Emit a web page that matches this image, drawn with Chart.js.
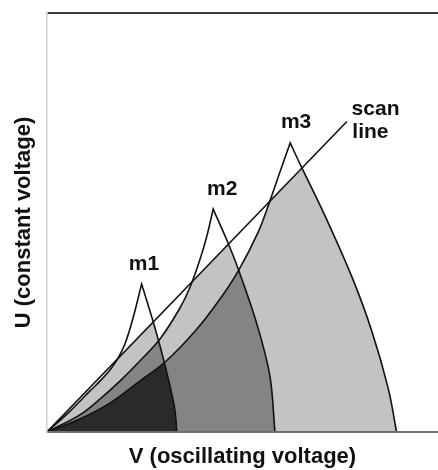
<!DOCTYPE html>
<html>
<head>
<meta charset="utf-8">
<script src="https://cdn.jsdelivr.net/npm/chart.js@4.4.1/dist/chart.umd.min.js"></script>
<style>
  html, body { margin: 0; padding: 0; background: #fff; }
  #chart { display: block; }
</style>
</head>
<body>
<canvas id="chart" width="438" height="470"></canvas>
<script>
// V and U in arbitrary units (0..100).
// each stability region: left edge from the origin up to the apex, right edge from the apex down to the V axis
const m1LeftV = [0, 5.9, 11.0, 13.6, 16.1, 17.9, 20.0, 22.0, 24.2];
const m1LeftU = [0, 5.0, 9.8, 12.2, 14.8, 17.2, 21.2, 27.2, 35.3];
const m1RightV = [24.2, 27.2, 29.7, 31.5, 32.7, 33.2];
const m1RightU = [35.3, 26.2, 17.7, 10.8, 5.3, 0];

const m2LeftV = [0, 8.4, 13.6, 18.7, 23.8, 28.9, 34.0, 36.6, 39.1, 40.9, 42.5];
const m2LeftU = [0, 4.1, 7.9, 12.2, 17.0, 22.2, 29.6, 34.6, 41.1, 46.8, 53.2];
const m2RightV = [42.5, 46.3, 48.9, 53.6, 57.0, 58.3];
const m2RightU = [53.2, 45.1, 38.9, 26.0, 13.4, 0];

const m3LeftV = [0, 8.4, 16.1, 23.8, 30.2, 37.9, 44.2, 48.9, 54.0, 57.0, 59.6, 62.2];
const m3LeftU = [0, 3.1, 6.9, 12.2, 16.7, 24.1, 31.7, 38.4, 47.7, 55.1, 62.1, 69.0];
const m3RightV = [62.2, 65.1, 71.1, 77.9, 83.0, 87.3, 89.4];
const m3RightU = [69.0, 63.2, 51.6, 37.2, 24.3, 10.3, 0];

const scanV = [0, 76.7];
const scanU = [0, 74.1];

const notes = ['m1', 'm2', 'm3', 'scan', 'line'];
const noteV = [24.8, 44.8, 63.7, 77.9, 78.1];
const noteU = [38.7, 56.6, 72.6, 75.7, 70.2];
const noteAlign = ['center', 'center', 'center', 'left', 'left'];

const V_MAX = 100;
const U_MAX = 100;

const LIGHT = '#c3c3c3';
const MID = '#848484';
const DARK = '#2a2a2a';
const INK = '#111';
const FAMILY = '"Liberation Sans", Arial, sans-serif';
const LABEL_FONT = {family: FAMILY, size: 21, weight: 'bold'};
const TITLE_FONT = {family: FAMILY, size: 22, weight: 'bold'};

const toPts = (vs, us) => vs.map((v, i) => ({x: v, y: us[i]}));
const outline = (lv, lu, rv, ru) => toPts(lv, lu).concat(toPts(rv, ru));
// same outline carried on along the V axis, so a fill can use it as a floor past the region's end
const withFloor = (pts) => pts.concat([{...pts[pts.length - 1]}, {x: V_MAX, y: 0}]);

const m1 = outline(m1LeftV, m1LeftU, m1RightV, m1RightU);
const m2 = outline(m2LeftV, m2LeftU, m2RightV, m2RightU);
const m3 = outline(m3LeftV, m3LeftU, m3RightV, m3RightU);
const scan = toPts(scanV, scanU);

const stroke = (data, order) => ({data, order, borderColor: INK, borderWidth: 1.6, fill: false});
const guide = (data, order) => ({data, order, borderWidth: 0, fill: false});
const patch = (data, order, fill, color) => ({data, order, fill, borderWidth: 0, backgroundColor: color});
const band = (data, order, target, color) =>
  patch(data, order, {target, above: color, below: 'transparent'});

// shade = how many regions overlap (1 light, 2 mid, 3 dark), white above the scan line.
// painted bottom to top, highest order first
const datasets = [
  stroke(m1, 0),                   // 0
  stroke(m2, 1),                   // 1
  stroke(m3, 2),                   // 2
  stroke(scan, 3),                 // 3
  guide(withFloor(m1), 20),        // 4
  guide(withFloor(m2), 21),        // 5
  patch(scan, 4, 'end', '#fff'),   // above the scan line
  band(m1, 5, 1, LIGHT),           // m1 only
  band(m1, 6, 2, MID),             // m1 and m2, not m3
  patch(m1, 7, 'origin', DARK),    // all three
  band(m3, 8, 5, LIGHT),           // m3 only
  patch(m3, 9, 'origin', MID),     // m3 and m2
  band(m2, 10, 4, LIGHT),          // m2 only
  patch(m2, 11, 'origin', MID),
];

const regionLabels = {
  id: 'regionLabels',
  afterDatasetsDraw(chart) {
    const {ctx, scales: {x, y}} = chart;
    ctx.save();
    ctx.font = `${LABEL_FONT.weight} ${LABEL_FONT.size}px ${LABEL_FONT.family}`;
    ctx.fillStyle = INK;
    ctx.textBaseline = 'alphabetic';
    notes.forEach((t, i) => {
      ctx.textAlign = noteAlign[i];
      ctx.fillText(t, x.getPixelForValue(noteV[i]), y.getPixelForValue(noteU[i]));
    });
    ctx.restore();
  }
};

new Chart(document.getElementById('chart'), {
  type: 'line',
  data: {datasets},
  plugins: [regionLabels],
  options: {
    responsive: false,
    animation: false,
    devicePixelRatio: 1,
    layout: {padding: {top: 13, left: 0, right: 0, bottom: 0}},
    elements: {
      point: {radius: 0, hoverRadius: 0},
      line: {tension: 0.35},
    },
    plugins: {
      legend: {display: false},
      tooltip: {enabled: false},
    },
    scales: {
      x: {
        type: 'linear',
        min: 0,
        max: V_MAX,
        grid: {display: false},
        ticks: {display: false},
        border: {display: true, color: '#6e6e6e', width: 2, z: 1},
        title: {display: true, text: 'V (oscillating voltage)', color: INK, font: TITLE_FONT, padding: {top: 0, bottom: 0}},
        afterFit: (s) => { s.height = 38; },
      },
      y: {
        type: 'linear',
        min: 0,
        max: U_MAX,
        grid: {
          color: (c) => (c.tick && c.tick.value === U_MAX ? '#3a3a3a' : 'transparent'),
          lineWidth: 2,
          drawTicks: false,
          z: 1,
        },
        ticks: {display: false},
        border: {display: true, color: '#cfcfcf', width: 1.5, z: 1},
        title: {display: true, text: 'U (constant voltage)', color: INK, font: TITLE_FONT, padding: {top: 11, bottom: 0}},
        afterFit: (s) => { s.width = 47; },
      },
    },
  },
});
</script>
</body>
</html>
